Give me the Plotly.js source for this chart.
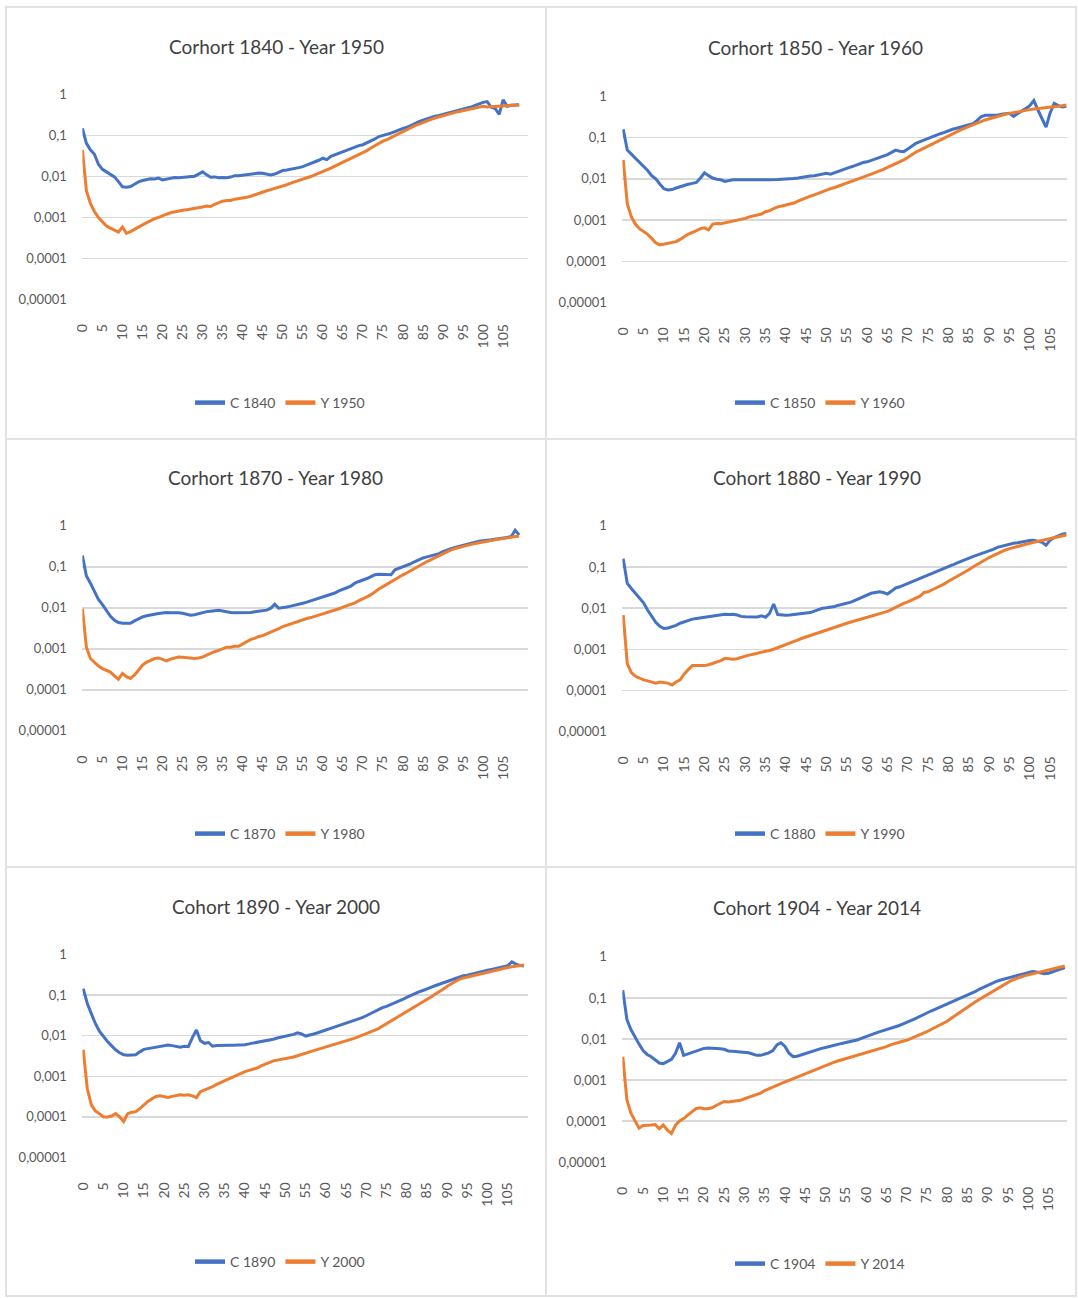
<!DOCTYPE html>
<html><head><meta charset="utf-8">
<script src="https://cdn.plot.ly/plotly-3.0.1.min.js"></script>
<style>html,body{margin:0;padding:0;background:#fff;overflow:hidden}#chart{width:1078px;height:1298px}</style>
</head><body><div id="chart"></div>
<script>
// ---------------- DATA ----------------
const ages = [0,1,2,3,4,5,6,7,8,9,10,11,12,13,14,15,16,17,18,19,20,21,22,23,24,25,26,27,28,29,30,31,32,33,34,35,36,37,38,39,40,41,42,43,44,45,46,47,48,49,50,51,52,53,54,55,56,57,58,59,60,61,62,63,64,65,66,67,68,69,70,71,72,73,74,75,76,77,78,79,80,81,82,83,84,85,86,87,88,89,90,91,92,93,94,95,96,97,98,99,100,101,102,103,104,105,106,107,108,109];

const titles = ['Corhort 1840 - Year 1950','Corhort 1850 - Year 1960','Corhort 1870 - Year 1980','Cohort 1880 - Year 1990','Cohort 1890 - Year 2000','Cohort 1904 - Year 2014'];
const cohortNames = ['C 1840','C 1850','C 1870','C 1880','C 1890','C 1904'];
const yearNames = ['Y 1950','Y 1960','Y 1980','Y 1990','Y 2000','Y 2014'];

const xTickVals = [0,5,10,15,20,25,30,35,40,45,50,55,60,65,70,75,80,85,90,95,100,105];
const xTickText = ['0','5','10','15','20','25','30','35','40','45','50','55','60','65','70','75','80','85','90','95','100','105'];
const yTickVals = [1,0.1,0.01,0.001,0.0001,0.00001];
const yTickText = ['1','0,1','0,01','0,001','0,0001','0,00001'];

const c1840 = [0.15,0.065,0.045,0.035,0.02,0.015,0.013,0.011,0.0098,0.0075,0.0056,0.0055,0.0057,0.0065,0.0074,0.008,0.0085,0.0088,0.0087,0.0092,0.0083,0.0088,0.0093,0.0095,0.0094,0.0096,0.0097,0.0099,0.0102,0.0115,0.013,0.011,0.0096,0.0098,0.0094,0.0095,0.0093,0.0097,0.0105,0.0104,0.0108,0.011,0.0112,0.0118,0.0122,0.012,0.0116,0.011,0.0115,0.0128,0.014,0.0145,0.015,0.0158,0.0165,0.0175,0.019,0.021,0.023,0.025,0.028,0.026,0.031,0.034,0.037,0.04,0.044,0.048,0.052,0.057,0.06,0.066,0.074,0.083,0.095,0.1,0.105,0.115,0.125,0.14,0.15,0.16,0.18,0.2,0.22,0.24,0.26,0.27,0.3,0.31,0.33,0.35,0.36,0.4,0.42,0.44,0.47,0.5,0.55,0.6,0.65,0.68,0.5,0.46,0.33,0.75,0.52,0.55,0.55,0.57];
const y1950 = [0.045,0.0045,0.0022,0.0014,0.001,0.00078,0.00062,0.00055,0.00048,0.00044,0.00058,0.00041,0.00045,0.0005,0.00058,0.00066,0.00075,0.00085,0.00093,0.001,0.00112,0.0012,0.0013,0.00138,0.00142,0.0015,0.00155,0.0016,0.00168,0.00175,0.0018,0.0019,0.00185,0.0021,0.0023,0.0025,0.0026,0.0026,0.0028,0.0029,0.0029,0.0031,0.0033,0.0036,0.0039,0.0042,0.0045,0.0048,0.0051,0.0054,0.0058,0.0063,0.0069,0.0074,0.008,0.0086,0.0094,0.01,0.011,0.012,0.0135,0.0145,0.016,0.018,0.02,0.022,0.025,0.028,0.031,0.034,0.037,0.043,0.05,0.057,0.066,0.073,0.08,0.09,0.1,0.11,0.125,0.14,0.16,0.175,0.19,0.21,0.23,0.25,0.27,0.29,0.31,0.33,0.35,0.37,0.39,0.41,0.43,0.45,0.47,0.5,0.52,0.5,0.51,0.53,0.52,0.53,0.54,0.55,0.55,0.56];

const c1850 = [0.16,0.05,0.04,0.032,0.025,0.02,0.016,0.012,0.01,0.0075,0.0058,0.0054,0.0055,0.006,0.0065,0.007,0.0074,0.0078,0.0082,0.0105,0.014,0.012,0.0105,0.0098,0.0095,0.0087,0.0092,0.0095,0.0096,0.0095,0.0096,0.0095,0.0096,0.0095,0.0096,0.0095,0.0096,0.0095,0.0097,0.0098,0.0098,0.01,0.0102,0.0105,0.011,0.0113,0.0118,0.012,0.0125,0.013,0.0137,0.013,0.0142,0.0155,0.0165,0.018,0.0195,0.021,0.023,0.025,0.026,0.028,0.03,0.033,0.035,0.039,0.044,0.05,0.047,0.046,0.053,0.062,0.073,0.08,0.088,0.096,0.105,0.115,0.125,0.135,0.15,0.16,0.17,0.18,0.19,0.2,0.22,0.26,0.32,0.35,0.35,0.34,0.35,0.37,0.38,0.39,0.33,0.38,0.43,0.51,0.6,0.8,0.47,0.3,0.18,0.4,0.68,0.6,0.56,0.58];
const y1960 = [0.029,0.0025,0.0012,0.0008,0.00062,0.00053,0.00045,0.00036,0.00028,0.00025,0.00026,0.00028,0.00029,0.0003,0.00034,0.0004,0.00046,0.0005,0.00056,0.00062,0.00065,0.00058,0.0008,0.00083,0.00082,0.00086,0.0009,0.00094,0.001,0.00105,0.0011,0.0012,0.00125,0.0013,0.0014,0.0016,0.0017,0.0019,0.0021,0.0022,0.0023,0.0024,0.0026,0.0029,0.0032,0.0035,0.0038,0.0041,0.0045,0.0049,0.0053,0.0058,0.0062,0.0067,0.0072,0.0078,0.0085,0.0092,0.0098,0.011,0.012,0.013,0.0142,0.0155,0.017,0.019,0.021,0.023,0.026,0.029,0.033,0.039,0.045,0.05,0.056,0.064,0.072,0.08,0.09,0.1,0.112,0.125,0.14,0.155,0.17,0.185,0.2,0.22,0.245,0.27,0.29,0.31,0.33,0.35,0.37,0.39,0.41,0.43,0.45,0.47,0.48,0.5,0.51,0.52,0.54,0.55,0.56,0.58,0.6,0.62];

const c1870 = [0.19,0.06,0.04,0.025,0.016,0.012,0.0085,0.0062,0.005,0.0044,0.0042,0.0042,0.0042,0.0048,0.0054,0.006,0.0064,0.0068,0.007,0.0073,0.0076,0.0077,0.0076,0.0077,0.0076,0.0074,0.007,0.0066,0.0068,0.0073,0.0078,0.0081,0.0083,0.0086,0.0087,0.0084,0.008,0.0077,0.0076,0.0076,0.0075,0.0076,0.0077,0.008,0.0083,0.0086,0.0088,0.0098,0.0123,0.0098,0.01,0.0105,0.011,0.0115,0.0122,0.013,0.0138,0.0148,0.0158,0.0168,0.018,0.0192,0.021,0.023,0.026,0.029,0.031,0.034,0.04,0.044,0.047,0.052,0.058,0.064,0.066,0.066,0.065,0.064,0.085,0.092,0.1,0.108,0.12,0.135,0.15,0.165,0.175,0.185,0.195,0.21,0.235,0.26,0.28,0.3,0.32,0.34,0.36,0.38,0.4,0.42,0.44,0.45,0.46,0.47,0.48,0.5,0.52,0.55,0.78,0.6];
const y1980 = [0.0096,0.0011,0.00058,0.00047,0.00038,0.00033,0.0003,0.00027,0.00022,0.00018,0.00025,0.00021,0.00019,0.00023,0.0003,0.0004,0.00047,0.00052,0.00058,0.0006,0.00055,0.00051,0.00056,0.0006,0.00063,0.00062,0.0006,0.00059,0.00058,0.0006,0.00063,0.0007,0.00078,0.00085,0.00092,0.001,0.0011,0.0011,0.00115,0.00115,0.0013,0.0015,0.0017,0.0018,0.002,0.0021,0.0023,0.0025,0.0028,0.0031,0.0035,0.0038,0.0041,0.0044,0.0048,0.0052,0.0055,0.0058,0.0062,0.0066,0.007,0.0075,0.0081,0.0087,0.0095,0.0104,0.0112,0.012,0.0133,0.015,0.0165,0.0186,0.021,0.025,0.029,0.033,0.038,0.044,0.05,0.057,0.064,0.072,0.082,0.095,0.108,0.12,0.135,0.15,0.168,0.185,0.205,0.23,0.26,0.28,0.3,0.32,0.34,0.355,0.37,0.39,0.4,0.42,0.44,0.46,0.47,0.49,0.51,0.53,0.55,0.57];

const c1880 = [0.16,0.04,0.03,0.023,0.018,0.0135,0.009,0.0062,0.0045,0.0036,0.0032,0.0033,0.0035,0.0038,0.0043,0.0047,0.005,0.0054,0.0056,0.0058,0.006,0.0062,0.0063,0.0066,0.007,0.0071,0.007,0.0071,0.0068,0.0063,0.0062,0.0061,0.0062,0.0061,0.0065,0.006,0.0075,0.0126,0.007,0.0068,0.0067,0.0068,0.0069,0.0072,0.0074,0.0076,0.0078,0.0085,0.0092,0.0099,0.0102,0.0105,0.011,0.0118,0.0125,0.0133,0.014,0.0155,0.0172,0.019,0.021,0.023,0.024,0.025,0.024,0.022,0.026,0.031,0.033,0.036,0.039,0.043,0.048,0.053,0.058,0.064,0.07,0.077,0.085,0.092,0.1,0.112,0.125,0.138,0.15,0.165,0.18,0.195,0.21,0.23,0.25,0.27,0.3,0.32,0.34,0.36,0.38,0.39,0.41,0.42,0.44,0.45,0.43,0.4,0.34,0.45,0.52,0.57,0.63,0.65];
const y1990 = [0.0068,0.00045,0.00027,0.00022,0.0002,0.00018,0.00017,0.00016,0.00015,0.00016,0.000155,0.00015,0.000135,0.00016,0.00018,0.00025,0.00032,0.0004,0.0004,0.0004,0.0004,0.00042,0.00045,0.00048,0.00053,0.0006,0.00058,0.00057,0.00059,0.00064,0.00068,0.00072,0.00075,0.0008,0.00085,0.00088,0.00093,0.001,0.0011,0.0012,0.0013,0.00145,0.0016,0.0017,0.00185,0.002,0.0022,0.0024,0.0026,0.0028,0.003,0.0032,0.0035,0.0038,0.004,0.0043,0.0046,0.0049,0.0052,0.0055,0.0059,0.0063,0.0067,0.0071,0.0077,0.0083,0.0093,0.0105,0.0118,0.013,0.0142,0.0158,0.0173,0.0195,0.024,0.025,0.028,0.031,0.034,0.039,0.045,0.051,0.058,0.066,0.075,0.086,0.1,0.115,0.13,0.15,0.17,0.19,0.21,0.24,0.26,0.28,0.3,0.32,0.34,0.36,0.38,0.4,0.42,0.45,0.47,0.5,0.53,0.55,0.58,0.6];

const c1890 = [0.145,0.063,0.035,0.02,0.013,0.0095,0.0072,0.0057,0.0045,0.0038,0.0034,0.0033,0.0033,0.0034,0.004,0.0046,0.0048,0.005,0.0052,0.0055,0.0058,0.0059,0.0057,0.0054,0.0052,0.0055,0.0054,0.009,0.0138,0.0075,0.0065,0.0068,0.0055,0.0057,0.0058,0.0058,0.0058,0.0058,0.0058,0.0059,0.006,0.0063,0.0066,0.0068,0.007,0.0073,0.0078,0.0082,0.0088,0.0093,0.0096,0.01,0.0108,0.0118,0.011,0.0098,0.0102,0.011,0.0118,0.013,0.0138,0.015,0.0162,0.0175,0.019,0.02,0.022,0.024,0.026,0.028,0.031,0.035,0.04,0.044,0.049,0.053,0.058,0.064,0.069,0.078,0.088,0.098,0.11,0.12,0.13,0.14,0.155,0.17,0.185,0.2,0.22,0.24,0.26,0.28,0.3,0.31,0.33,0.35,0.37,0.39,0.41,0.43,0.45,0.47,0.5,0.53,0.66,0.58,0.54,0.52];
const y2000 = [0.0045,0.0005,0.0002,0.00014,0.00012,0.0001,0.0001,0.000105,0.00012,0.0001,0.000077,0.00012,0.00013,0.000135,0.00016,0.0002,0.00024,0.00028,0.00032,0.00033,0.00031,0.0003,0.00032,0.00034,0.00035,0.00034,0.00035,0.00033,0.0003,0.00042,0.00046,0.0005,0.00056,0.00063,0.0007,0.00078,0.00086,0.00095,0.00105,0.0012,0.0013,0.0014,0.0015,0.0016,0.0018,0.002,0.0022,0.0024,0.0025,0.0026,0.0027,0.0029,0.003,0.0032,0.0034,0.0037,0.004,0.0043,0.0046,0.005,0.0053,0.0056,0.006,0.0064,0.0068,0.0072,0.0078,0.0086,0.0094,0.0102,0.0112,0.0123,0.0136,0.015,0.0172,0.0195,0.022,0.025,0.029,0.034,0.039,0.045,0.051,0.058,0.067,0.077,0.09,0.105,0.12,0.14,0.165,0.19,0.22,0.245,0.265,0.28,0.3,0.32,0.34,0.36,0.38,0.4,0.42,0.44,0.46,0.48,0.5,0.52,0.54,0.55];

const c1904 = [0.155,0.03,0.017,0.011,0.0075,0.0052,0.0042,0.0037,0.0031,0.0026,0.0025,0.0028,0.0032,0.0045,0.0081,0.004,0.0043,0.0046,0.0049,0.0055,0.0059,0.006,0.006,0.0059,0.0058,0.0056,0.0051,0.005,0.0049,0.0049,0.0048,0.0046,0.0043,0.004,0.004,0.0043,0.0046,0.0052,0.0072,0.0081,0.0066,0.0045,0.0037,0.0038,0.0041,0.0045,0.0048,0.0051,0.0055,0.0059,0.0062,0.0065,0.007,0.0074,0.0078,0.0082,0.0086,0.009,0.0096,0.0105,0.0115,0.0125,0.0137,0.0147,0.0158,0.0168,0.018,0.0195,0.021,0.023,0.025,0.028,0.031,0.035,0.039,0.043,0.048,0.053,0.059,0.066,0.072,0.079,0.088,0.097,0.106,0.115,0.13,0.145,0.165,0.185,0.205,0.23,0.25,0.27,0.29,0.31,0.33,0.35,0.37,0.39,0.42,0.44,0.43,0.41,0.39,0.4,0.43,0.47,0.51,0.55];
const y2014 = [0.0037,0.00033,0.000155,0.0001,0.000067,0.000078,0.000078,0.00008,0.000082,0.000065,0.00008,0.00006,0.00005,0.00008,0.0001,0.000115,0.00014,0.00017,0.0002,0.00021,0.0002,0.0002,0.00021,0.00024,0.00027,0.0003,0.00029,0.0003,0.0003,0.00032,0.00035,0.00038,0.00041,0.00044,0.00048,0.00055,0.0006,0.00067,0.00074,0.00082,0.0009,0.001,0.0011,0.0012,0.0013,0.0014,0.0016,0.0017,0.0019,0.0021,0.0023,0.0025,0.0027,0.0029,0.0031,0.0033,0.0035,0.0037,0.004,0.0043,0.0046,0.0049,0.0052,0.0056,0.006,0.0065,0.0072,0.0078,0.0083,0.0088,0.0093,0.0102,0.011,0.0122,0.0137,0.015,0.017,0.019,0.021,0.024,0.027,0.032,0.038,0.044,0.051,0.059,0.07,0.081,0.093,0.107,0.12,0.135,0.155,0.18,0.21,0.24,0.27,0.3,0.32,0.345,0.365,0.39,0.41,0.44,0.47,0.5,0.52,0.54,0.57,0.6];

const cohortSeries = [c1840,c1850,c1870,c1880,c1890,c1904];
const yearSeries = [y1950,y1960,y1980,y1990,y2000,y2014];

// ---------------- GEOMETRY (page pixels) ----------------
const W = 1078, H = 1298;
const geom = [
  {px:[82.4,528],   py:[94.5,299.5],  xr:[0,111.2],   tx:276,   ty:46.5,  lx:280, ly:403},
  {px:[622.4,1066.8],py:[96.3,302.7], xr:[-0.2,109.1],tx:815.5, ty:47.5,  lx:820, ly:403},
  {px:[82.4,528],   py:[525.7,731],   xr:[0,111.2],   tx:275.5, ty:477.5, lx:280, ly:834},
  {px:[622.4,1066.8],py:[525.7,731.7],xr:[-0.2,109.1],tx:817,   ty:477.5, lx:820, ly:834},
  {px:[82.4,528],   py:[954.3,1157.7],xr:[-0.2,110],  tx:276,   ty:906,   lx:280, ly:1262},
  {px:[622.4,1066.8],py:[956.7,1162.3],xr:[-0.1,109.5],tx:816.7,ty:907.5, lx:820, ly:1264}
];
const boxes = [[6,7,546,439],[546,7,1076,439],[6,439,546,867],[546,439,1076,867],[6,867,546,1296],[546,867,1076,1296]];

const BLUE = '#4472C4', ORANGE = '#ED7D31', GREY = '#595959';
const FONT = 'Lato, "Liberation Sans", sans-serif';

const data = [];
const layout = {
  width: W, height: H, autosize: false,
  margin: {l:0, r:0, t:0, b:0},
  paper_bgcolor: '#fff', plot_bgcolor: 'rgba(0,0,0,0)',
  showlegend: true,
  annotations: [], shapes: []
};

geom.forEach((g, i) => {
  const n = i === 0 ? '' : String(i + 1);
  const xa = 'x' + n, ya = 'y' + n, lg = 'legend' + n;
  data.push({x: ages, y: cohortSeries[i], type: 'scatter', mode: 'lines', xaxis: xa, yaxis: ya,
    line: {color: BLUE, width: 3}, showlegend: false, hoverinfo: 'skip'});
  data.push({x: ages, y: yearSeries[i], type: 'scatter', mode: 'lines', xaxis: xa, yaxis: ya,
    line: {color: ORANGE, width: 3}, showlegend: false, hoverinfo: 'skip'});
  // legend entries
  data.push({x: [null], y: [null], type: 'scatter', mode: 'lines', xaxis: xa, yaxis: ya, name: cohortNames[i],
    line: {color: BLUE, width: 4.5}, showlegend: true, legend: lg});
  data.push({x: [null], y: [null], type: 'scatter', mode: 'lines', xaxis: xa, yaxis: ya, name: yearNames[i],
    line: {color: ORANGE, width: 4.5}, showlegend: true, legend: lg});

  layout['xaxis' + n] = {
    domain: [g.px[0] / W, g.px[1] / W], range: g.xr, anchor: ya,
    tickmode: 'array', tickvals: xTickVals, ticktext: xTickText, tickangle: -90,
    ticks: 'outside', ticklen: 18, tickcolor: 'rgba(0,0,0,0)',
    showgrid: false, zeroline: false, showline: false, fixedrange: true,
    tickfont: {family: FONT, size: 14, color: GREY}
  };
  layout['yaxis' + n] = {
    type: 'log', domain: [1 - g.py[1] / H, 1 - g.py[0] / H], range: [-5.005, 0.005], anchor: xa,
    tickmode: 'array', tickvals: yTickVals, ticktext: yTickText,
    ticks: 'outside', ticklen: 12, tickcolor: 'rgba(0,0,0,0)',
    showgrid: true, gridcolor: '#d9d9d9', gridwidth: 1.5,
    zeroline: false, showline: false, fixedrange: true,
    tickfont: {family: FONT, size: 13, color: GREY}
  };
  layout[lg] = {
    orientation: 'h', x: g.lx / W, xanchor: 'center', y: 1 - g.ly / H, yanchor: 'middle',
    xref: 'paper', yref: 'paper', bgcolor: 'rgba(0,0,0,0)',
    font: {family: FONT, size: 14, color: GREY}
  };
  layout.annotations.push({
    text: titles[i], xref: 'paper', yref: 'paper', x: g.tx / W, y: 1 - g.ty / H,
    xanchor: 'center', yanchor: 'middle', showarrow: false,
    font: {family: FONT, size: 19, color: '#404040'}
  });
});

boxes.forEach(b => {
  layout.shapes.push({type: 'rect', xref: 'paper', yref: 'paper',
    x0: b[0] / W, x1: b[2] / W, y0: 1 - b[3] / H, y1: 1 - b[1] / H,
    line: {color: '#e2e2e2', width: 2}, fillcolor: 'rgba(0,0,0,0)', layer: 'below'});
});

Plotly.newPlot('chart', data, layout, {displayModeBar: false, staticPlot: true});
</script>
</body></html>
